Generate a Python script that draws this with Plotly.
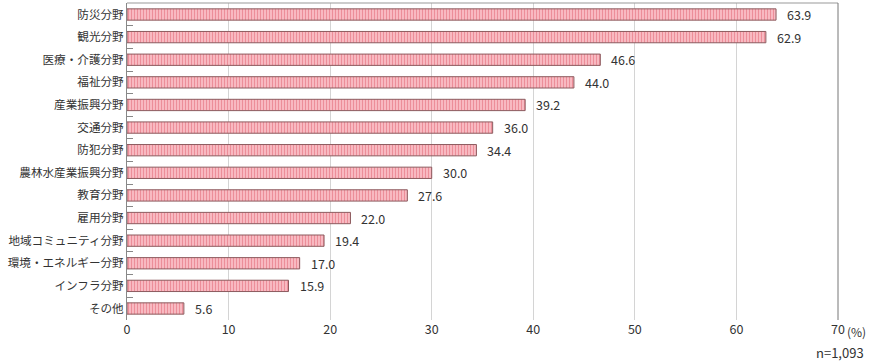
import plotly.graph_objects as go

categories = ["防災分野", "観光分野", "医療・介護分野", "福祉分野", "産業振興分野", "交通分野", "防犯分野",
              "農林水産業振興分野", "教育分野", "雇用分野", "地域コミュニティ分野", "環境・エネルギー分野",
              "インフラ分野", "その他"]
values = [63.9, 62.9, 46.6, 44.0, 39.2, 36.0, 34.4, 30.0, 27.6, 22.0, 19.4, 17.0, 15.9, 5.6]
x_ticks = [0, 10, 20, 30, 40, 50, 60, 70]
x_ticktext = ["0", "10", "20", "30", "40", "50", "60", "70"]
sample_note = "n=1,093"
unit_note = "(%)"

FONT = "Noto Sans CJK JP"
TXT = "#333333"

fig = go.Figure()
fig.add_trace(go.Bar(
    x=values, y=categories, orientation="h", width=0.5,
    marker=dict(
        color="#f9c2c8",
        line=dict(color="#8c5a5e", width=1),
        pattern=dict(shape="|", fgcolor="#e05a6a", bgcolor="#f9c2c8", size=3, solidity=0.45),
    ),
    hoverinfo="skip",
))

for c, v in zip(categories, values):
    fig.add_annotation(x=v, y=c, text=f"{v:.1f}", showarrow=False, xanchor="left", xshift=9,
                       font=dict(family=FONT, size=12.5, color=TXT))

fig.add_annotation(x=70, y=0, xref="x", yref="paper", text=unit_note, showarrow=False,
                   xanchor="left", yanchor="middle", xshift=7, yshift=-11,
                   font=dict(family=FONT, size=12, color=TXT))
fig.add_annotation(x=1.0394, y=-0.101, xref="paper", yref="paper", text=sample_note, showarrow=False,
                   xanchor="right", yanchor="middle",
                   font=dict(family=FONT, size=13, color=TXT))

# top and right frame lines
fig.add_shape(type="line", xref="paper", yref="paper", x0=0, x1=1, y0=1, y1=1,
              line=dict(color="#999999", width=1))
fig.add_shape(type="line", xref="paper", yref="paper", x0=1, x1=1, y0=0, y1=1,
              line=dict(color="#777777", width=1))

fig.update_layout(
    width=870, height=361,
    margin=dict(l=127, r=32, t=3, b=41),
    plot_bgcolor="white", paper_bgcolor="white",
    showlegend=False,
    font=dict(family=FONT, size=12.5, color=TXT),
    xaxis=dict(range=[0, 70], tickvals=x_ticks, ticktext=x_ticktext, showgrid=True,
               gridcolor="#d4d4d4", gridwidth=1, zeroline=False, showline=False,
               ticks="", automargin=False, tickfont=dict(family=FONT, size=12.5, color=TXT)),
    yaxis=dict(autorange="reversed", showline=True, linecolor="#888888", linewidth=1,
               ticks="inside", tickson="boundaries", ticklen=6, tickcolor="#888888",
               showgrid=False, automargin=False, tickfont=dict(family=FONT, size=11.6, color=TXT)),
    bargap=0.5,
)

fig.write_html("out.html", config={"displayModeBar": False},
               post_script="document.body.style.margin='0';document.body.style.overflow='hidden';")
